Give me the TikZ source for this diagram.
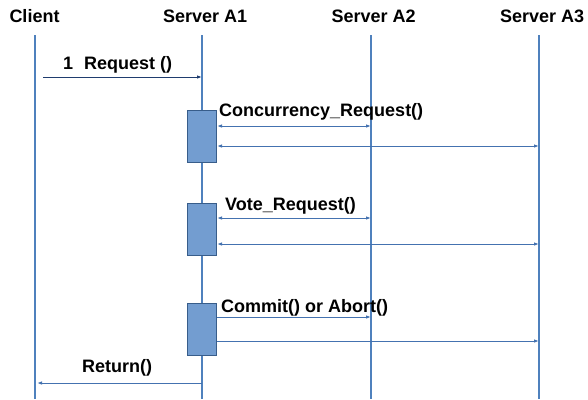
\documentclass[tikz,border=0pt]{standalone}
\usepackage{fontspec}
\setmainfont{Liberation Sans}
\usepackage{tikz}
\usetikzlibrary{arrows.meta}
\usetikzlibrary{positioning}
\definecolor{lifeblue}{RGB}{79,129,189}
\definecolor{msgblue}{RGB}{68,114,176}
\definecolor{navyblue}{RGB}{31,60,110}
\definecolor{boxfill}{RGB}{115,157,208}
\definecolor{boxedge}{RGB}{56,93,138}
\tikzset{
  lbl/.style     ={font=\bfseries\fontsize{18}{21}\selectfont, inner sep=0pt, anchor=base west},
  lifeline/.style={color=lifeblue, line width=1.3pt},
  msg/.style     ={color=msgblue, line width=1pt},
  tipr/.style    ={-{Latex[length=5pt,width=3.5pt]}},
  tipl/.style    ={{Latex[length=5pt,width=3.5pt]}-},
  tipb/.style    ={{Latex[length=5pt,width=3.5pt]}-{Latex[length=5pt,width=3.5pt]}},
  actbox/.style  ={draw=boxedge, fill=boxfill, line width=1pt, minimum width=29pt, minimum height=52pt, inner sep=0pt}
}

\begin{document}
\begin{tikzpicture}[x=1pt, y=-1pt]
    \useasboundingbox (0,0) rectangle (588,399);
    % headers
    \node[lbl] (client) at (  9.3, 22.7) {Client};
    \node[lbl] (srva1)  at (163.0, 22.7) {Server A1};
    \node[lbl] (srva2)  at (331.5, 22.7) {Server A2};
    \node[lbl] (srva3)  at (500.0, 22.7) {Server A3};
    % lifelines
    \coordinate (cl top) at ( 35, 35);  \coordinate (cl bot) at ( 35,399);
    \coordinate (a1 top) at (202, 35);  \coordinate (a1 bot) at (202,399);
    \coordinate (a2 top) at (371, 35);  \coordinate (a2 bot) at (371,399);
    \coordinate (a3 top) at (539, 35);  \coordinate (a3 bot) at (539,399);
    \draw[lifeline] (cl top) -- (cl bot);
    \draw[lifeline] (a1 top) -- (a1 bot);
    \draw[lifeline] (a2 top) -- (a2 bot);
    \draw[lifeline] (a3 top) -- (a3 bot);
    % activation boxes
    \node[actbox] (box1) at (202,136.5) {};
    \node[actbox] (box2) at (202,229.0) {};
    \node[actbox] (box3) at (202,329.0) {};
    % request
    \coordinate (req) at (43,77);
    \draw[msg, color=navyblue, tipr] (req) -- (req -| a1 top);
    \node[lbl] (reqlbl) at (63,69) {1\hspace{11pt}Request ()};
    % concurrency
    \coordinate (cc2) at (371,126);
    \coordinate (cc3) at (539,146);
    \draw[msg, tipb] (cc2 -| box1.east) -- (cc2);
    \draw[msg, tipb] (cc3 -| box1.east) -- (cc3);
    \node[lbl] (cclbl) at (219,116.5) {Concurrency\_Request()};
    % vote
    \coordinate (vt2) at (371,218);
    \coordinate (vt3) at (539,244);
    \draw[msg, tipb] (vt2 -| box2.east) -- (vt2);
    \draw[msg, tipb] (vt3 -| box2.east) -- (vt3);
    \node[lbl] (vtlbl) at (225,210.5) {Vote\_Request()};
    % commit / abort
    \coordinate (cm2) at (371,317);
    \coordinate (cm3) at (539,341);
    \draw[msg, tipr] (cm2 -| box3.east) -- (cm2);
    \draw[msg, tipr] (cm3 -| box3.east) -- (cm3);
    \node[lbl] (cmlbl) at (221,312.7) {Commit() or Abort()};
    % return
    \coordinate (ret) at (37,383);
    \draw[msg, tipl] (ret) -- (ret -| a1 top);
    \node[lbl] (retlbl) at (82,372) {Return()};
\end{tikzpicture}
\end{document}
